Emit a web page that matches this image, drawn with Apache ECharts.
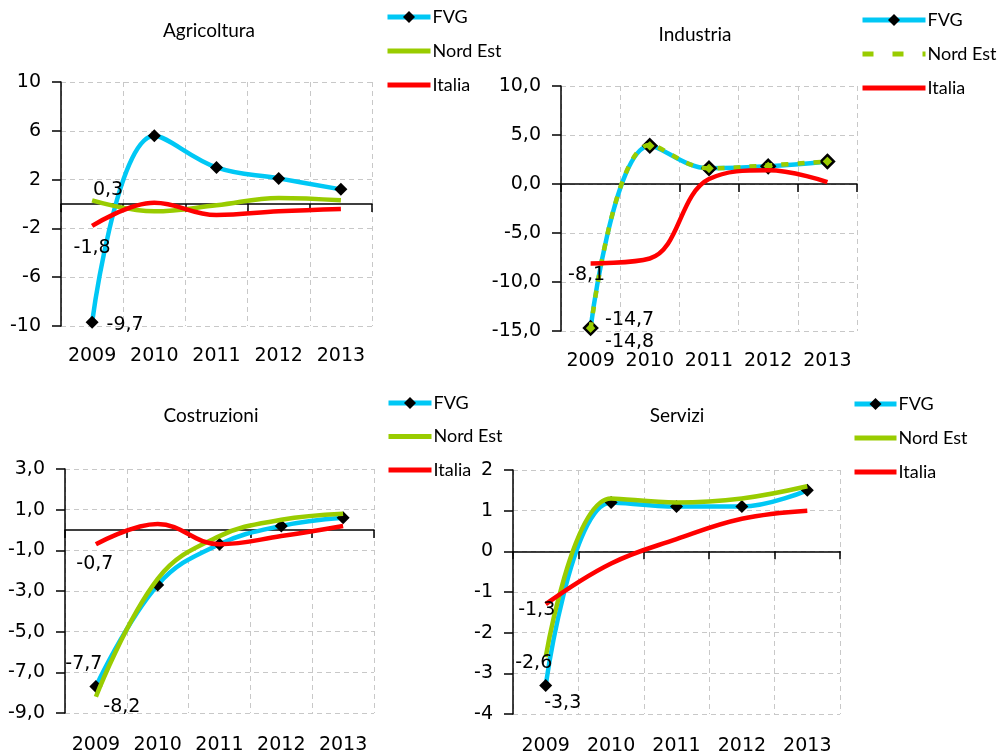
<!DOCTYPE html>
<html><head><meta charset="utf-8">
<script src="https://cdn.jsdelivr.net/npm/echarts@6/dist/echarts.min.js"></script>
<style>html,body{margin:0;padding:0;background:#fff}#c{width:1001px;height:756px}</style>
</head><body><div id="c"></div>
<script>
const years = ['2009', '2010', '2011', '2012', '2013'];
const seriesNames = ['FVG', 'Nord Est', 'Italia'];
const panelTitles = ['Agricoltura', 'Industria', 'Costruzioni', 'Servizi'];

const agriFVG = [-9.7, 5.6, 3.0, 2.1, 1.2];
const agriNordEst = [0.3, -0.6, -0.1, 0.5, 0.3];
const agriItalia = [-1.8, 0.1, -0.9, -0.6, -0.4];

const indFVG = [-14.7, 3.9, 1.6, 1.8, 2.3];
const indNordEst = [-14.8, 4.0, 1.6, 1.9, 2.3];
const indItalia = [-8.1, -7.6, 0.5, 1.4, 0.2];

const cosFVG = [-7.7, -2.7, -0.7, 0.2, 0.6];
const cosNordEst = [-8.2, -2.4, -0.3, 0.5, 0.8];
const cosItalia = [-0.7, 0.3, -0.7, -0.3, 0.2];

const serFVG = [-3.3, 1.2, 1.1, 1.1, 1.5];
const serNordEst = [-2.6, 1.3, 1.2, 1.3, 1.6];
const serItalia = [-1.3, -0.3, 0.3, 0.8, 1.0];

const agriTicks = [-10, -6, -2, 2, 6, 10];
const indTicks = [-15, -10, -5, 0, 5, 10];
const cosTicks = [-9, -7, -5, -3, -1, 1, 3];
const serTicks = [-4, -3, -2, -1, 0, 1, 2];

const COLORS = { 'FVG': '#00C8F5', 'Nord Est': '#99CC00', 'Italia': '#FF0000' };
const AXIS_FONT = 'DejaVu Sans';
const TEXT_FONT = 'Lato';

const panels = [
  { name: panelTitles[0], data: [agriFVG, agriNordEst, agriItalia], ticks: agriTicks, dec: 0,
    grid: { left: 61, top: 82, width: 311, height: 244 }, titlePos: [209, 21],
    legend: { left: 385, top: 8, w: 43, gap: 16 }, labMargin: 21,
    labOff: [[33, 3], [16, -10], [0, 22]], dashedNE: false, greenMarker: false },
  { name: panelTitles[1], data: [indFVG, indNordEst, indItalia], ticks: indTicks, dec: 1,
    grid: { left: 561, top: 86, width: 296, height: 245 }, titlePos: [695, 25],
    legend: { left: 860, top: 11, w: 63, gap: 16 }, labMargin: 21,
    labOff: [[39, -8], [39, 13], [-4, 12]], dashedNE: true, greenMarker: true },
  { name: panelTitles[2], data: [cosFVG, cosNordEst, cosItalia], ticks: cosTicks, dec: 1,
    grid: { left: 65, top: 469, width: 309, height: 244 }, titlePos: [211, 406],
    legend: { left: 386, top: 394, w: 43, gap: 15.5 }, labMargin: 23,
    labOff: [[-12, -23], [26, 10], [-1, 20]], dashedNE: false, greenMarker: false },
  { name: panelTitles[3], data: [serFVG, serNordEst, serItalia], ticks: serTicks, dec: 0,
    grid: { left: 513, top: 470, width: 327, height: 244 }, titlePos: [677, 406],
    legend: { left: 852, top: 395, w: 42, gap: 16 }, labMargin: 23,
    labOff: [[17, 18], [-12, 6], [-9, 6]], dashedNE: false, greenMarker: false }
];

const fmtNum = (v, dec) => v.toFixed(dec).replace('.', ',');

const option = {
  animation: false,
  backgroundColor: '#fff',
  title: [], grid: [], xAxis: [], yAxis: [], legend: [], series: []
};

panels.forEach((p, i) => {
  option.title.push({
    text: p.name, left: p.titlePos[0], top: p.titlePos[1], textAlign: 'center', padding: 0,
    textStyle: { fontFamily: TEXT_FONT, fontSize: 19, fontWeight: 'normal', color: '#000' }
  });
  option.grid.push(Object.assign({ containLabel: false }, p.grid));
  // axis crossing at zero (line + ticks)
  option.xAxis.push({
    type: 'category', gridIndex: i, data: years, position: 'bottom', boundaryGap: true,
    axisLine: { show: true, onZero: true, lineStyle: { color: '#000', width: 1.5 } },
    axisTick: { show: true, interval: 0, length: 8, inside: false, lineStyle: { color: '#000', width: 1.5 } },
    axisLabel: { show: false }, splitLine: { show: false }
  });
  // bottom axis with category labels and vertical gridlines
  option.xAxis.push({
    type: 'category', gridIndex: i, data: years, position: 'bottom', boundaryGap: true,
    axisLine: { show: false, onZero: false }, axisTick: { show: false },
    axisLabel: { show: true, interval: 0, margin: p.labMargin, color: '#000', fontFamily: AXIS_FONT, fontSize: 19 },
    splitLine: { show: true, interval: 0, lineStyle: { color: '#C8C8C8', type: [5, 4], width: 1 } }
  });
  option.yAxis.push({
    type: 'value', gridIndex: i, min: p.ticks[0], max: p.ticks[p.ticks.length - 1],
    axisLine: { show: true, onZero: false, lineStyle: { color: '#000', width: 1.5 } },
    axisTick: { show: true, length: 9, inside: false, customValues: p.ticks, lineStyle: { color: '#000', width: 1.5 } },
    axisLabel: { show: true, customValues: p.ticks, margin: 20, color: '#000', fontFamily: AXIS_FONT, fontSize: 19,
      formatter: (v) => fmtNum(v, p.dec) },
    splitLine: { show: true, lineStyle: { color: '#C8C8C8', type: [5, 4], width: 1 } }
  });
  option.legend.push({
    orient: 'vertical', left: p.legend.left, top: p.legend.top, padding: 0,
    itemWidth: p.legend.w, itemHeight: 15, itemGap: p.legend.gap, selectedMode: false,
    textStyle: { fontFamily: TEXT_FONT, fontSize: 18, color: '#000', padding: [0, 0, 0, -3] },
    data: seriesNames.map((n, k) => {
      const item = { name: n, lineStyle: { width: 5, color: COLORS[n], type: 'solid' } };
      if (k === 0) item.itemStyle = { color: '#000', opacity: 1, borderWidth: 0 };
      else item.itemStyle = { opacity: 0 };
      if (k === 1 && p.dashedNE) item.lineStyle.type = [11, 19];
      return item;
    })
  });
  seriesNames.forEach((n, k) => {
    const vals = p.data[k];
    const data = vals.map((v, j) => j === 0 ? {
      value: v,
      label: { show: true, position: 'inside', offset: p.labOff[k], color: '#000',
        fontFamily: AXIS_FONT, fontSize: 19, formatter: () => fmtNum(v, 1) }
    } : v);
    const isFVG = k === 0;
    const s = {
      name: n, type: 'line', xAxisIndex: 2 * i, yAxisIndex: i, data: data,
      smooth: 0.4, symbol: isFVG ? 'diamond' : 'circle', symbolSize: isFVG ? 13 : 0,
      showSymbol: true, z: 3 + k,
      lineStyle: { color: COLORS[n], width: 4.5, type: (k === 1 && p.dashedNE) ? [7, 9] : 'solid' },
      itemStyle: isFVG ? (p.greenMarker ? { color: '#99CC00', borderColor: '#000', borderWidth: 2.5 } : { color: '#000' }) : { color: COLORS[n] },
      emphasis: { disabled: true }
    };
    option.series.push(s);
  });
});

const chart = echarts.init(document.getElementById('c'), null, { renderer: 'canvas' });
chart.setOption(option);
</script>
</body></html>
